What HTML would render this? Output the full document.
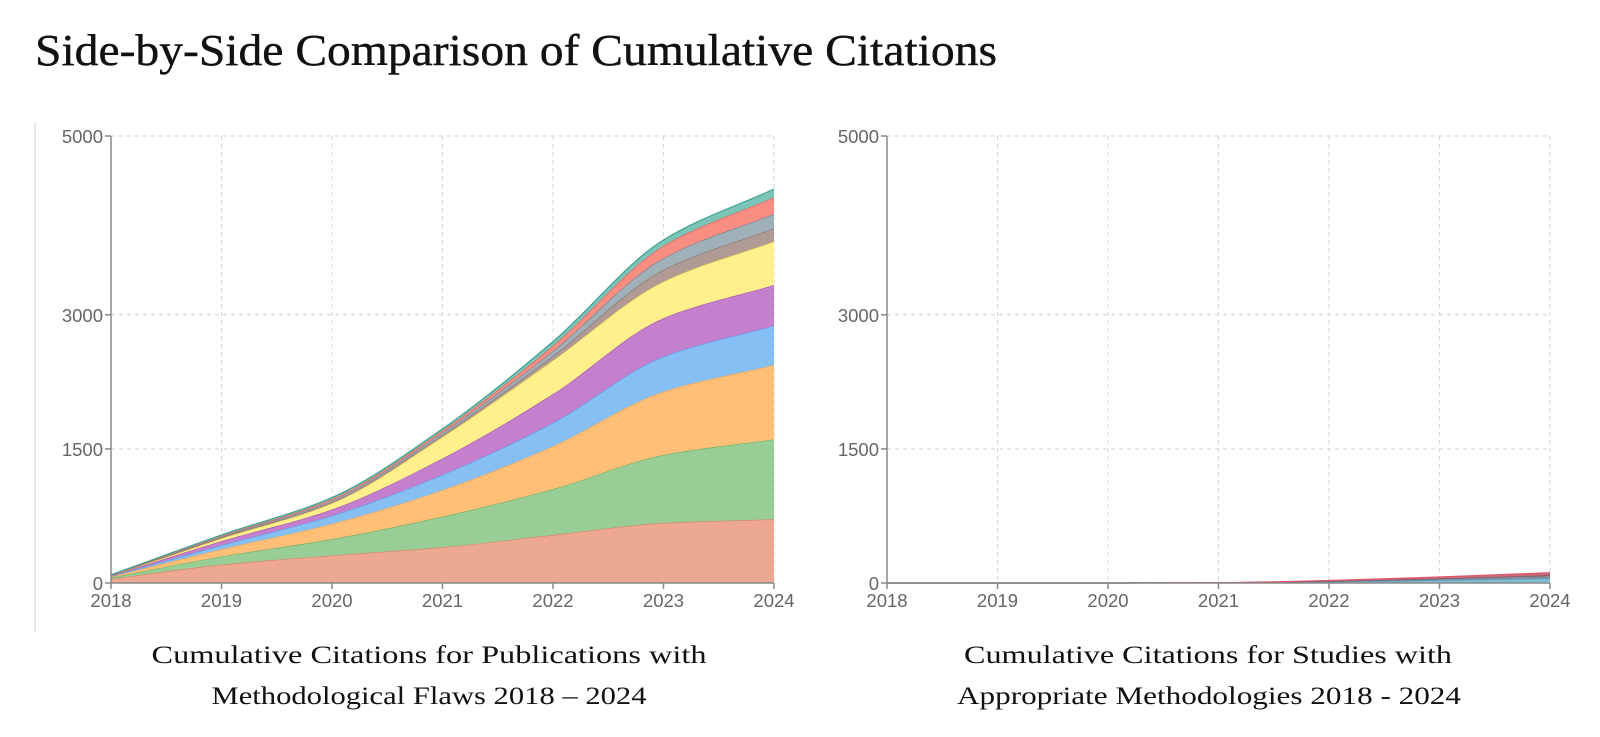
<!DOCTYPE html>
<html><head><meta charset="utf-8">
<style>
html,body{margin:0;padding:0;background:#fff;}
svg{display:block;}
</style></head>
<body>
<svg id="root" width="1600" height="737" viewBox="0 0 1600 737" xmlns="http://www.w3.org/2000/svg">
  <text x="35" y="65" font-family="Liberation Serif, serif" font-size="44" fill="#111" stroke="#111" stroke-width="0.4" textLength="962" lengthAdjust="spacingAndGlyphs">Side-by-Side Comparison of Cumulative Citations</text>
  <line x1="35" y1="122" x2="35" y2="632" stroke="#e2e2e2" stroke-width="1.5"/>
  <g id="left"></g>
  <g id="right"></g>
  <text x="429" y="663" text-anchor="middle" font-family="Liberation Serif, serif" font-size="25" fill="#111" textLength="555" lengthAdjust="spacingAndGlyphs">Cumulative Citations for Publications with</text>
  <text x="429" y="704" text-anchor="middle" font-family="Liberation Serif, serif" font-size="25" fill="#111" textLength="435" lengthAdjust="spacingAndGlyphs">Methodological Flaws 2018 – 2024</text>
  <text x="1208" y="663" text-anchor="middle" font-family="Liberation Serif, serif" font-size="25" fill="#111" textLength="488" lengthAdjust="spacingAndGlyphs">Cumulative Citations for Studies with</text>
  <text x="1209" y="704" text-anchor="middle" font-family="Liberation Serif, serif" font-size="25" fill="#111" textLength="504" lengthAdjust="spacingAndGlyphs">Appropriate Methodologies 2018 - 2024</text>
</svg>
<script>
const years = [2018, 2019, 2020, 2021, 2022, 2023, 2024];
const yTicks = [0, 1500, 3000, 5000];
const leftS1 = [45, 205, 308, 400, 537, 671, 713];
const leftS2 = [15, 92, 183, 342, 513, 761, 894];
const leftS3 = [10, 80, 171, 297, 480, 708, 831];
const leftS4 = [5, 45, 91, 171, 262, 392, 440];
const leftS5 = [5, 46, 69, 183, 320, 429, 455];
const leftS6 = [3, 30, 68, 239, 377, 409, 485];
const leftS7 = [2, 10, 18, 25, 50, 131, 149];
const leftS8 = [2, 10, 18, 25, 55, 131, 160];
const leftS9 = [2, 8, 15, 22, 60, 138, 187];
const leftS10 = [3, 11, 15, 20, 46, 67, 93];
const rightS1 = [0, 0, 0, 2, 12, 30, 50];
const rightS2 = [0, 0, 0, 1, 8, 20, 35];
const rightS3 = [0, 0, 0, 1, 8, 18, 30];

const NS = "http://www.w3.org/2000/svg";
function mk(tag, attrs, parent){
  const e = document.createElementNS(NS, tag);
  for (const k in attrs) e.setAttribute(k, attrs[k]);
  parent.appendChild(e);
  return e;
}
function monotone(xs, ys){
  const n = xs.length, d = [], m = [];
  for (let i=0;i<n-1;i++) d.push((ys[i+1]-ys[i])/(xs[i+1]-xs[i]));
  for (let i=0;i<n;i++){
    if (i===0) m.push(d[0]);
    else if (i===n-1) m.push(d[n-2]);
    else {
      if (d[i-1]*d[i] <= 0) m.push(0);
      else {
        const h0 = xs[i]-xs[i-1], h1 = xs[i+1]-xs[i];
        m.push(3*(h0+h1)/((2*h1+h0)/d[i-1] + (h1+2*h0)/d[i]));
      }
    }
  }
  let p = "";
  for (let i=0;i<n-1;i++){
    const h = (xs[i+1]-xs[i])/3;
    p += ` C${xs[i]+h},${ys[i]+m[i]*h} ${xs[i+1]-h},${ys[i+1]-m[i+1]*h} ${xs[i+1]},${ys[i+1]}`;
  }
  return p;
}
function reverseCurve(xs, ys){
  const rxs = xs.slice().reverse(), rys = ys.slice().reverse();
  const seg = monotone(rxs.map(v => -v), rys);
  return seg.replace(/C([^ ]+) ([^ ]+) ([^ ]+)/g, (all, a, b, c) => {
    const f = p => { const [px, py] = p.split(","); return (-parseFloat(px)) + "," + py; };
    return "C" + f(a) + " " + f(b) + " " + f(c);
  });
}

function drawChart(g, x0, x1, y0, y1, series, fills, strokes, prefix){
  const X = yr => x0 + (yr - years[0]) / (years[years.length-1] - years[0]) * (x1 - x0);
  const Y = v => y0 - v / 5000 * (y0 - y1);
  years.forEach(yr => {
    if (yr === years[0]) return;
    const l = mk("line", {x1:X(yr), x2:X(yr), y1:Y(5000), y2:y0, stroke:"#d4d4d4", "stroke-dasharray":"4,4", "stroke-width":1}, g);
    
    
  });
  yTicks.forEach(t => {
    if (t === 0) return;
    const l = mk("line", {x1:x0, x2:x1, y1:Y(t), y2:Y(t), stroke:"#d4d4d4", "stroke-dasharray":"4,4", "stroke-width":1}, g);
    
    
  });
  const xs = years.map(X);
  let base = years.map(() => 0);
  series.forEach((s, i) => {
    const top = base.map((b, j) => b + s[j]);
    const ty = top.map(Y), by = base.map(Y);
    const n = xs.length;
    const d = `M${xs[0]},${ty[0]}` + monotone(xs, ty) + ` L${xs[n-1]},${by[n-1]}` + reverseCurve(xs, by) + " Z";
    const a = mk("path", {d:d, fill:fills[i], stroke:"none"}, g);
    
    
    const ln = mk("path", {d:`M${xs[0]},${ty[0]}` + monotone(xs, ty), fill:"none", stroke:strokes[i], "stroke-width":1.2}, g);
    
    
    base = top;
  });
  const ya = mk("line", {x1:x0, x2:x0, y1:Y(5000), y2:y0, stroke:"#888", "stroke-width":1.5}, g);
  
  
  const xa = mk("line", {x1:x0, x2:x1, y1:y0, y2:y0, stroke:"#888", "stroke-width":1.5}, g);
  
  
  yTicks.forEach(t => {
    const tk = mk("line", {x1:x0-6, x2:x0, y1:Y(t), y2:Y(t), stroke:"#888", "stroke-width":1.5}, g);
    
    
    const tx = mk("text", {x:x0-8, y:Y(t)+7, "text-anchor":"end", "font-family":"Liberation Sans, sans-serif", "font-size":18.5, fill:"#666"}, g);
    tx.textContent = t;
    
    
  });
  years.forEach(yr => {
    const tk = mk("line", {x1:X(yr), x2:X(yr), y1:y0, y2:y0+6, stroke:"#888", "stroke-width":1.5}, g);
    
    
    const tx = mk("text", {x:X(yr), y:y0+24, "text-anchor":"middle", "font-family":"Liberation Sans, sans-serif", "font-size":18.5, fill:"#666"}, g);
    tx.textContent = yr;
    
    
  });
}

const leftFills = ["#eda892","#98cd95","#ffbf77","#86bff4","#c47fcd","#fff08c","#b09a94","#a0b0b9","#f88d82","#7cc4b7"];
const leftStrokes = ["#e07f6a","#6cb067","#f0a850","#5a9fe8","#a654b3","#f3d94a","#8a716a","#73858f","#e8625a","#3fa291"];
drawChart(document.getElementById("left"), 111, 774, 583, 136,
  [leftS1,leftS2,leftS3,leftS4,leftS5,leftS6,leftS7,leftS8,leftS9,leftS10], leftFills, leftStrokes, "left");
drawChart(document.getElementById("right"), 887, 1550, 583, 136,
  [rightS1,rightS2,rightS3], ["#7fbfd6","#8a8a9a","#c96a78"], ["#4fa5c4","#5a5a6a","#e0556a"], "right");
</script>
</body></html>
